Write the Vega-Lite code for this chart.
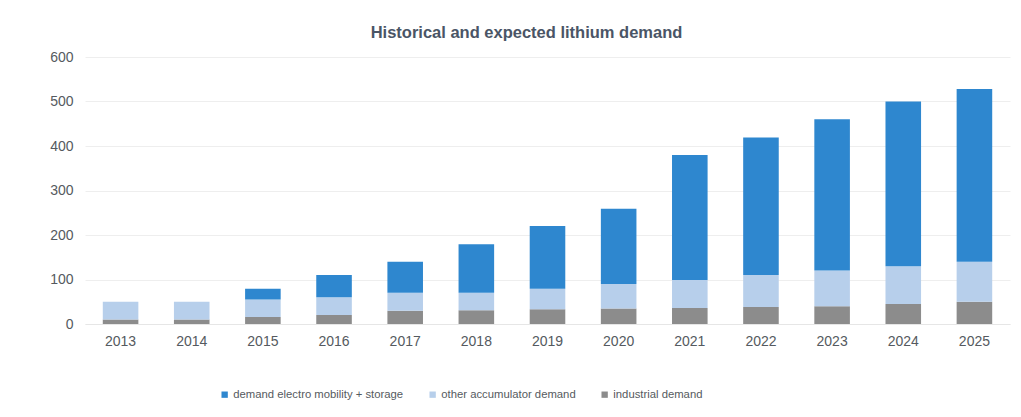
{
  "$schema": "https://vega.github.io/schema/vega-lite/v6.json",
  "width": 925,
  "height": 267,
  "autosize": {"type": "none"},
  "padding": {"left": 85, "top": 57, "right": 11, "bottom": 93},
  "background": "white",
  "title": {
    "text": "Historical and expected lithium demand",
    "font": "Liberation Sans",
    "fontSize": 16.5,
    "fontWeight": "bold",
    "color": "#4a5566",
    "anchor": "middle",
    "dx": -21,
    "offset": 9
  },
  "data": {
    "values": [
      {"year": "2013", "industrial": 10, "accumulatorTop": 50, "total": 50},
      {"year": "2014", "industrial": 10, "accumulatorTop": 50, "total": 50},
      {"year": "2015", "industrial": 16, "accumulatorTop": 55, "total": 79},
      {"year": "2016", "industrial": 20, "accumulatorTop": 60, "total": 110},
      {"year": "2017", "industrial": 30, "accumulatorTop": 70, "total": 140},
      {"year": "2018", "industrial": 31, "accumulatorTop": 70, "total": 179},
      {"year": "2019", "industrial": 33, "accumulatorTop": 79, "total": 220},
      {"year": "2020", "industrial": 35, "accumulatorTop": 90, "total": 259},
      {"year": "2021", "industrial": 36, "accumulatorTop": 99, "total": 380},
      {"year": "2022", "industrial": 38, "accumulatorTop": 110, "total": 419},
      {"year": "2023", "industrial": 40, "accumulatorTop": 120, "total": 460},
      {"year": "2024", "industrial": 45, "accumulatorTop": 130, "total": 500},
      {"year": "2025", "industrial": 50, "accumulatorTop": 140, "total": 528}
    ]
  },
  "encoding": {
    "x": {
      "field": "year",
      "type": "ordinal",
      "scale": {"paddingInner": 0.5, "paddingOuter": 0.25},
      "axis": {
        "title": null,
        "labelAngle": 0,
        "labelFont": "Liberation Sans",
        "labelFontSize": 14,
        "labelColor": "#555a60",
        "labelPadding": 10,
        "domain": true,
        "domainColor": "#e6e6e6",
        "ticks": false
      }
    }
  },
  "layer": [
    {
      "mark": {"type": "bar"},
      "encoding": {
        "y": {
          "field": "industrial",
          "type": "quantitative",
          "scale": {"domain": [0, 600], "nice": false},
          "axis": {
            "title": null,
            "values": [0, 100, 200, 300, 400, 500, 600],
            "labelFont": "Liberation Sans",
            "labelFontSize": 14,
            "labelColor": "#555a60",
            "labelPadding": 12,
            "domain": false,
            "ticks": false,
            "gridColor": "#eeeeee",
            "gridWidth": 1
          }
        },
        "y2": {"datum": 0},
        "color": {"datum": "industrial demand"}
      }
    },
    {
      "mark": {"type": "bar"},
      "encoding": {
        "y": {"field": "industrial", "type": "quantitative"},
        "y2": {"field": "accumulatorTop"},
        "color": {"datum": "other accumulator demand"}
      }
    },
    {
      "mark": {"type": "bar"},
      "encoding": {
        "y": {"field": "accumulatorTop", "type": "quantitative"},
        "y2": {"field": "total"},
        "color": {
          "datum": "demand electro mobility + storage",
          "scale": {
            "domain": ["demand electro mobility + storage", "other accumulator demand", "industrial demand"],
            "range": ["#2e87cf", "#b7cfeb", "#8c8c8c"]
          },
          "legend": {
            "title": null,
            "orient": "none",
            "direction": "horizontal",
            "legendX": 134,
            "legendY": 332,
            "symbolType": "square",
            "symbolSize": 40,
            "labelFont": "Liberation Sans",
            "labelFontSize": 11.3,
            "labelLimit": 0,
            "labelColor": "#555a60",
            "labelOffset": 3,
            "columnPadding": 23
          }
        }
      }
    }
  ],
  "config": {"view": {"stroke": null}}
}
